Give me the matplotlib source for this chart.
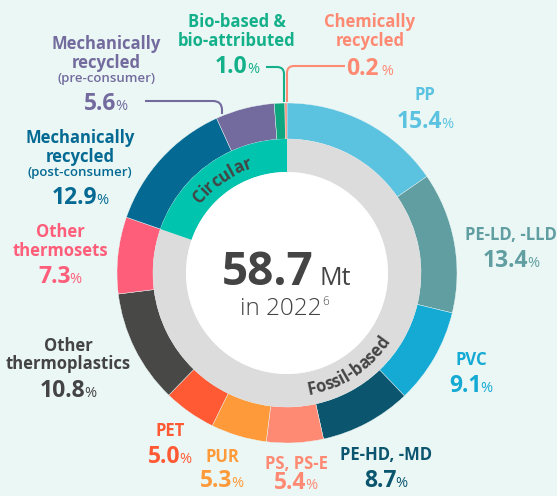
import matplotlib
matplotlib.use('Agg')
import matplotlib.pyplot as plt
from matplotlib.patches import Circle, PathPatch
from matplotlib.path import Path
from matplotlib.font_manager import FontProperties, findfont, get_font
import numpy as np

W, H = 557, 496
FONT = 'Open Sans'
plt.rcParams['font.family'] = [FONT, 'DejaVu Sans']

# ---------------- data ----------------
categories = ["PP", "PE-LD, -LLD", "PVC", "PE-HD, -MD", "PS, PS-E", "PUR", "PET",
              "Other\nthermoplastics", "Other\nthermosets",
              "Mechanically\nrecycled", "Mechanically\nrecycled",
              "Bio-based &\nbio-attributed", "Chemically\nrecycled"]
subnotes = ["", "", "", "", "", "", "", "", "", "(post-consumer)", "(pre-consumer)", "", ""]
shares = [15.4, 13.4, 9.1, 8.7, 5.4, 5.3, 5.0, 10.8, 7.3, 12.9, 5.6, 1.0, 0.2]
groups = ["Fossil-based", "Circular"]
group_shares = [80.4, 19.7]
total_value = "58.7"
total_unit = "Mt"
year_text = "in 2022"
footnote = "6"

# ---------------- style ----------------
seg_colors = ["#5BC2E0", "#609EA2", "#14AAD4", "#0B566E", "#FF8A74", "#FF9A3A", "#FF5A34",
              "#484846", "#FF5E7A", "#046A93", "#736B9E", "#0DA67E", "#FF8A74"]
txt_colors = ["#5BC2E0", "#609EA2", "#14AAD4", "#0B566E", "#FF8A74", "#FF9A3A", "#FF5A34",
              "#444444", "#FF5E7A", "#046A93", "#736B9E", "#14B08A", "#FF8A74"]
group_colors = ["#DCDCDC", "#00C4AE"]
BG = "#EBF7F5"
DARK = "#444444"

# label layout: (x center, name-line baselines, subnote baseline, pct baseline)  (pixels from top)
layout = [
    (425, [100], None, 128),
    (511, [240], None, 267),
    (471, [365], None, 392),
    (386, [460], None, 487),
    (296, [469], None, 489),
    (222, [462], None, 487),
    (170, [436], None, 463),
    (68, [351, 369], None, 397),
    (60, [237, 256], None, 283),
    (80, [143, 162], 176, 204),
    (106, [49, 68], 82, 110),
    (237, [27, 46], None, 73),
    (370, [27, 46], None, 75),
]

CX, CY = 287, 273          # pixel coords (from top)
R_OUT, R_MID, R_IN = 170, 134, 101

fig = plt.figure(figsize=(W / 100, H / 100), dpi=100)
fig.patch.set_facecolor(BG)
ax = fig.add_axes([0, 0, 1, 1])
ax.set_facecolor(BG)


def Y(y):
    return H - y


ax.pie(shares, colors=seg_colors, startangle=90, counterclock=False, radius=R_OUT,
       center=(CX, Y(CY)), wedgeprops=dict(width=R_OUT - R_MID, edgecolor=BG, linewidth=0.3),
       normalize=True, frame=False)
ax.pie(group_shares, colors=group_colors, startangle=90, counterclock=False, radius=R_MID,
       center=(CX, Y(CY)), wedgeprops=dict(width=R_MID - R_IN, edgecolor='none'),
       normalize=True, frame=False)
ax.add_patch(Circle((CX, Y(CY)), R_IN, facecolor='white', edgecolor='none', zorder=3))

ax.set_xlim(0, W)
ax.set_ylim(0, H)
ax.set_aspect('equal')
ax.axis('off')

renderer = fig.canvas.get_renderer()


def twidth(s, size, weight):
    fp = FontProperties(family=FONT, size=size, weight=weight)
    w, h, d = renderer.get_text_width_height_descent(s, fp, ismath=False)
    return w


NAME_SIZE = 12
PCT_SIZE = 16.5
PCTSIGN_SIZE = 10.5
GAP = -1

for i, (name, sub, val) in enumerate(zip(categories, subnotes, shares)):
    x, bls, sbl, pbl = layout[i]
    c = txt_colors[i]
    for line, bl in zip(name.split("\n"), bls):
        ax.text(x, Y(bl), line, ha='center', va='baseline', fontsize=NAME_SIZE,
                fontweight='bold', color=c, zorder=5)
    if sub and sbl is not None:
        ax.text(x, Y(sbl), sub, ha='center', va='baseline', fontsize=9.5,
                fontweight='semibold', color=c, zorder=5)
    num = f"{val:.1f}"
    sign = "\u00a0%" if i == len(shares) - 1 else "%"
    w1 = twidth(num, PCT_SIZE, 'bold')
    w2 = twidth(sign, PCTSIGN_SIZE, 'normal')
    x0 = x - (w1 + GAP + w2) / 2
    ax.text(x0, Y(pbl), num, ha='left', va='baseline', fontsize=PCT_SIZE,
            fontweight='bold', color=c, zorder=5)
    ax.text(x0 + w1 + GAP, Y(pbl), sign, ha='left', va='baseline',
            fontsize=PCTSIGN_SIZE, fontweight='normal', color=c, zorder=5)


# leader lines
def leader(pts, color):
    (x0, y0), (x1, y1), (xc, yc), (x2, y2), (x3, y3) = pts
    verts = [(x0, Y(y0)), (x1, Y(y1)), (xc, Y(yc)), (x2, Y(y2)), (x3, Y(y3))]
    codes = [Path.MOVETO, Path.LINETO, Path.CURVE3, Path.CURVE3, Path.LINETO]
    ax.add_patch(PathPatch(Path(verts, codes), facecolor='none', edgecolor=color,
                           linewidth=1.5, capstyle='butt', zorder=4))


leader([(145, 101), (213, 101), (222, 101), (222, 110), (222, 114)], txt_colors[10])
leader([(266, 67), (277, 67), (284, 67), (284, 74), (284, 102)], txt_colors[11])
leader([(345, 66), (294, 66), (287, 66), (287, 73), (287, 102)], txt_colors[12])

# centre text
w_num = twidth(total_value, 33, 'bold')
w_unit = twidth(total_unit, 18, 'normal')
xs = CX - 1 - (w_num + 6 + w_unit) / 2
ax.text(xs, Y(285), total_value, ha='left', va='baseline', fontsize=33, fontweight='bold',
        color=DARK, zorder=5)
ax.text(xs + w_num + 6, Y(285), total_unit, ha='left', va='baseline', fontsize=18,
        fontweight='normal', color=DARK, zorder=5)
w_year = twidth(year_text, 17.5, 'light')
xy = CX - 3 - (w_year + 7) / 2
ax.text(xy, Y(315), year_text, ha='left', va='baseline', fontsize=17.5, fontweight='light',
        color=DARK, zorder=5)
ax.text(xy + w_year + 1, Y(305), footnote, ha='left', va='baseline', fontsize=8.5,
        fontweight='light', color=DARK, zorder=5)


# curved text using glyph advances
def curved(text, theta0_deg, r_base, size, clockwise):
    fp = FontProperties(family=FONT, size=size, weight='bold')
    font = get_font(findfont(fp))
    font.set_size(size, fig.dpi)
    adv = []
    for ch in text:
        g = font.load_char(ord(ch))
        adv.append(g.linearHoriAdvance / 65536.0)
    total = sum(adv)
    pen = 0.0
    for ch, a in zip(text, adv):
        s = pen + a / 2 - total / 2
        pen += a
        if clockwise:
            th = np.radians(theta0_deg) - s / r_base
            rot = np.degrees(th) - 90
        else:
            th = np.radians(theta0_deg) + s / r_base
            rot = np.degrees(th) + 90
        px = CX + r_base * np.cos(th)
        py = Y(CY) + r_base * np.sin(th)
        ax.text(px, py, ch, ha='center', va='baseline', rotation=rot, rotation_mode='anchor',
                fontsize=size, fontweight='bold', color=DARK, zorder=5)


curved(groups[1], 125, 111, 12, clockwise=True)
curved(groups[0], -57, 124, 12, clockwise=False)

fig.savefig("out.png", dpi=100, facecolor=BG)
